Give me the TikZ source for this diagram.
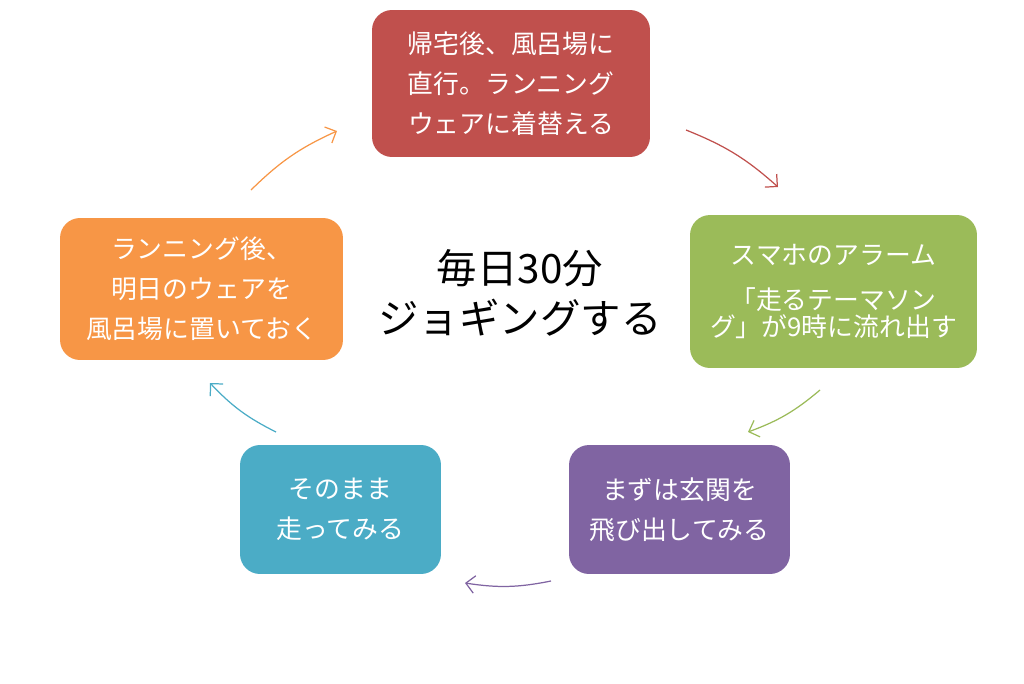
\documentclass[tikz,border=0pt]{standalone}
\usepackage{fontspec}
\setmainfont{Noto Sans CJK JP}
\usepackage{xcolor}
\usetikzlibrary{arrows.meta}
\definecolor{boxred}{HTML}{C0504D}
\definecolor{boxgreen}{HTML}{9BBB59}
\definecolor{boxpurple}{HTML}{8064A2}
\definecolor{boxteal}{HTML}{4BACC6}
\definecolor{boxorange}{HTML}{F79646}
\tikzset{
  cyclebox/.style={rounded corners=0.4cm,text=white,align=center,inner sep=0pt,
    font=\fontsize{14.7}{22.7}\selectfont},
  cyclearrow/.style={->,line width=0.7pt,bend left=10}
}
\begin{document}
\begin{tikzpicture}[x=0.02cm,y=-0.02cm,>={Straight Barb[length=5pt,width=10pt]}]
\useasboundingbox(0,0)rectangle(1024,683);
\node[cyclebox,fill=boxred,minimum width=5.56cm,minimum height=2.94cm](home)at(511,83.5)
  {帰宅後、風呂場に\\直行。ランニング\\ウェアに着替える};
\node[cyclebox,fill=boxgreen,minimum width=5.74cm,minimum height=3.06cm,
  font=\fontsize{14.7}{15.5}\selectfont](alarm)at(833.5,291.5)
  {スマホのアラーム\\[10pt]「走るテーマソン\\グ」が9時に流れ出す};
\node[cyclebox,fill=boxpurple,minimum width=4.42cm,minimum height=2.58cm](door)at(679.5,509.5)
  {まずは玄関を\\飛び出してみる};
\node[cyclebox,fill=boxteal,minimum width=4.02cm,minimum height=2.58cm](run)at(340.5,509.5)
  {そのまま\\走ってみる};
\node[cyclebox,fill=boxorange,minimum width=5.66cm,minimum height=2.84cm](wear)at(201.5,289)
  {ランニング後、\\明日のウェアを\\風呂場に置いておく};
\node[align=center,font=\fontsize{23}{28.4}\selectfont](goal)at(520,293)
  {毎日30分\\ジョギングする};
% arrows between the boxes
\coordinate(a1)at(686,130);\coordinate(a2)at(778,187);
\coordinate(b1)at(820,390);\coordinate(b2)at(748,432);
\coordinate(c1)at(551,581);\coordinate(c2)at(465,583);
\coordinate(d1)at(276,432);\coordinate(d2)at(210,383);
\coordinate(e1)at(251,190);\coordinate(e2)at(337,131);
\draw[cyclearrow,boxred](a1)to(a2);
\draw[cyclearrow,boxgreen](b1)to(b2);
\draw[cyclearrow,boxpurple](c1)to(c2);
\draw[cyclearrow,boxteal](d1)to(d2);
\draw[cyclearrow,boxorange](e1)to(e2);
\end{tikzpicture}
\end{document}
